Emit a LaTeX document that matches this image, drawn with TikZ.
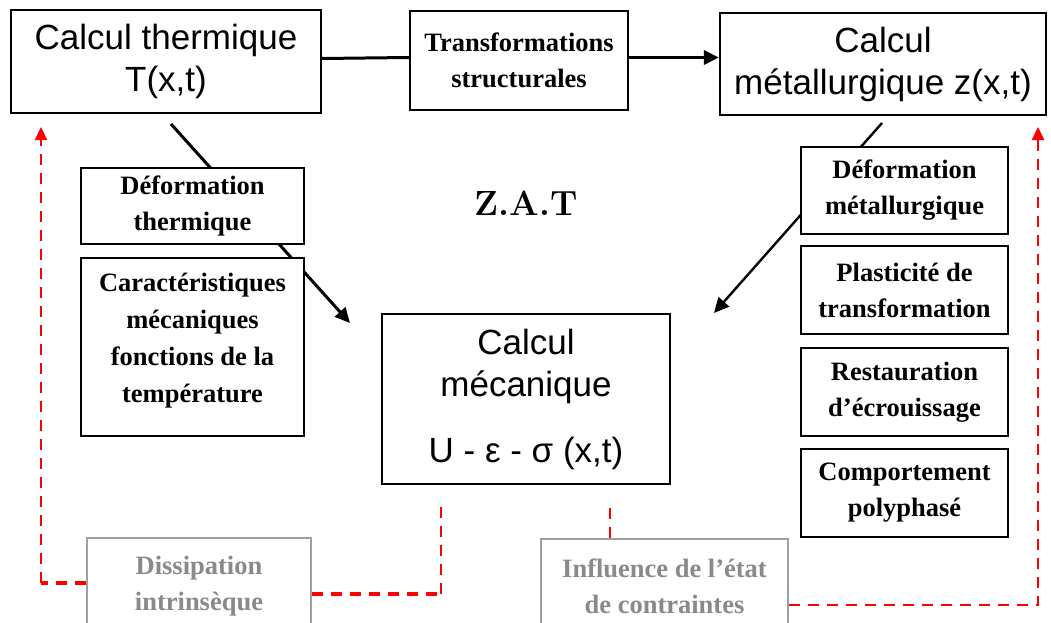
\documentclass[tikz,border=0pt]{standalone}
\usepackage{fontspec}
\newfontfamily\sansf{Liberation Sans}
\newfontfamily\seriff{Liberation Serif}
\usetikzlibrary{arrows.meta}
\definecolor{boxgrey}{HTML}{A0A0A0}
\definecolor{txtgrey}{HTML}{8A8A8A}
\definecolor{fbred}{HTML}{FF0000}
\begin{document}
\begin{tikzpicture}[x=1pt,y=-1pt,
  box/.style={draw=black, line width=2.2pt, fill=white, inner sep=0pt, align=center},
  bigtxt/.style={font=\sansf\fontsize{35}{42}\selectfont},
  smalltxt/.style={font=\seriff\bfseries\fontsize{26.5}{36}\selectfont},
  greybox/.style={draw=boxgrey, line width=2.2pt, fill=white, inner sep=0pt},
  greytxt/.style={text=txtgrey, align=center, inner sep=0pt, font=\seriff\bfseries\fontsize{26.5}{36}\selectfont},
  flow/.style={draw=black, line width=3pt, -{Triangle[length=15pt,width=14pt]}},
  fb/.style={draw=fbred, line width=2.3pt, dash pattern=on 11pt off 8pt},
  fbthick/.style={draw=fbred, line width=4.5pt, dash pattern=on 11pt off 8pt},
  fbtip/.style={-{Triangle[length=13pt,width=12pt]}},
]
\clip (0,0) rectangle (1051,623);
\fill[white] (0,0) rectangle (1051,623);

% diagonal influences, drawn first so the side boxes sit on top of them
\coordinate (ta) at (171,124);
\coordinate (tb) at (350,323);
\draw[flow] (ta) -- (tb);
\coordinate (ma) at (882,123);
\coordinate (mb) at (714,313);
\draw[flow, line width=2.4pt] (ma) -- (mb);

% main computations
\node[box,bigtxt,minimum width=310,minimum height=103] (therm) at (166,61.5) {Calcul thermique\\T(x,t)};
\node[box,smalltxt,minimum width=218,minimum height=99] (trans) at (519,60.5) {Transformations\\structurales};
\node[box,bigtxt,minimum width=326,minimum height=102] (metall) at (883,64) {Calcul\\métallurgique z(x,t)};
\node[box,bigtxt,minimum width=288,minimum height=170] (meca) at (526,399) {Calcul\\mécanique\\[24pt]U - ε - σ (x,t)};

\node[font=\bfseries\fontsize{35}{40}\selectfont, inner sep=0pt] (zat) at (526,203) {Z.A.T};

% left column
\node[box,smalltxt,minimum width=223,minimum height=76] (defth) at (192.5,206) {Déformation\\thermique};
\node[box,minimum width=223,minimum height=178] (caract) at (192.5,347) {};
\node[smalltxt,align=center,inner sep=0pt,font=\seriff\bfseries\fontsize{26.5}{37}\selectfont] (caracttxt) at (192.5,341) {Caractéristiques\\mécaniques\\fonctions de la\\température};

% right column
\node[box,smalltxt,minimum width=207,minimum height=87] (defmet) at (904.5,190.5) {Déformation\\métallurgique};
\node[box,smalltxt,minimum width=207,minimum height=88] (plast) at (904.5,290) {Plasticité de\\transformation};
\node[box,smalltxt,minimum width=207,minimum height=88] (resta) at (904.5,392) {Restauration\\d’écrouissage};
\node[box,smalltxt,minimum width=207,minimum height=88] (compo) at (904.5,493) {Comportement\\polyphasé};

% couplings at the bottom
\node[greybox,minimum width=224,minimum height=162] (dissip) at (199,619) {};
\node[greytxt] (dissiptxt) at (199,586) {Dissipation\\intrinsèque};
\node[greybox,minimum width=247,minimum height=162] (influ) at (664.5,620) {};
\node[greytxt] (influtxt) at (664.5,586) {Influence de l’état\\de contraintes};

% chaining of the computations
\draw[draw=black, line width=3pt] ([yshift=3pt]therm.east) -- ([yshift=3pt]trans.west);
\draw[flow] ([yshift=3pt]trans.east) -- ([yshift=3pt]trans.east -| metall.west);

% feedback paths
\coordinate (lc) at (41,583);
\coordinate (lt) at (41,127);
\draw[fbthick] (dissip.west |- lc) -- (lc);
\draw[fb,fbtip] (lc) -- (lt);

\coordinate (mc) at (441,594);
\coordinate (mt) at (441,505);
\draw[fbthick] (dissip.east |- mc) -- (mc);
\draw[fb] (mc) -- (mt);

\coordinate (it) at (610,503);
\draw[fb] (influ.north -| it) -- (it);

\coordinate (rc) at (1038,605);
\coordinate (rt) at (1038,127);
\draw[fb,line width=2.5pt,fbtip] (influ.east |- rc) -- (rc) -- (rt);
\end{tikzpicture}
\end{document}
